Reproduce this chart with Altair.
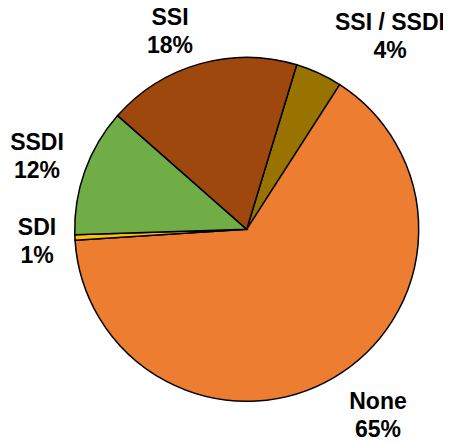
import altair as alt
import pandas as pd
import math

categories = ["SSI / SSDI", "None", "SDI", "SSDI", "SSI"]
values = [4.4, 64.9, 0.5, 12.0, 18.2]
pct_labels = ["4%", "65%", "1%", "12%", "18%"]
colors = ["#997300", "#ED7D31", "#FFC000", "#70AD47", "#9E480E"]

df = pd.DataFrame({"category": categories, "value": values, "order": list(range(len(categories)))})

PAD_TOP = 8
W, H = 435, 435 - PAD_TOP
CX, CY = 238.7, 221.3 - PAD_TOP
R = 172
start = math.radians(16.9)

pie = alt.Chart(df).mark_arc(stroke="black", strokeWidth=1.5, outerRadius=R).encode(
    theta=alt.Theta("value:Q", stack=True, scale=alt.Scale(range=[start, start + 2 * math.pi])),
    color=alt.Color("category:N", scale=alt.Scale(domain=categories, range=colors), legend=None),
    order=alt.Order("order:Q"),
    x=alt.value(CX),
    y=alt.value(CY),
)

# label layout (centre of first line, px relative to the page content box)
label_pos = {
    "SSI / SSDI": (382, 15),
    "None": (370, 394),
    "SDI": (29, 220),
    "SSDI": (29, 135),
    "SSI": (162, 9.5),
}

layers = [pie]
for cat, pct in zip(categories, pct_labels):
    px, py = label_pos[cat]
    t = alt.Chart(df).transform_filter(alt.datum.category == cat).mark_text(
        text=[cat, pct], font="Liberation Sans", fontSize=23, fontWeight="bold",
        lineHeight=28, align="center", baseline="middle", color="black",
    ).encode(x=alt.value(px), y=alt.value(py - PAD_TOP))
    layers.append(t)

chart = alt.layer(*layers).properties(
    width=W, height=H, autosize=alt.AutoSizeParams(type="none"),
    padding={"top": PAD_TOP, "left": 0, "right": 0, "bottom": 0}
).configure_view(stroke=None)

chart.save("out.html", embed_options={"renderer": "svg", "actions": False})
